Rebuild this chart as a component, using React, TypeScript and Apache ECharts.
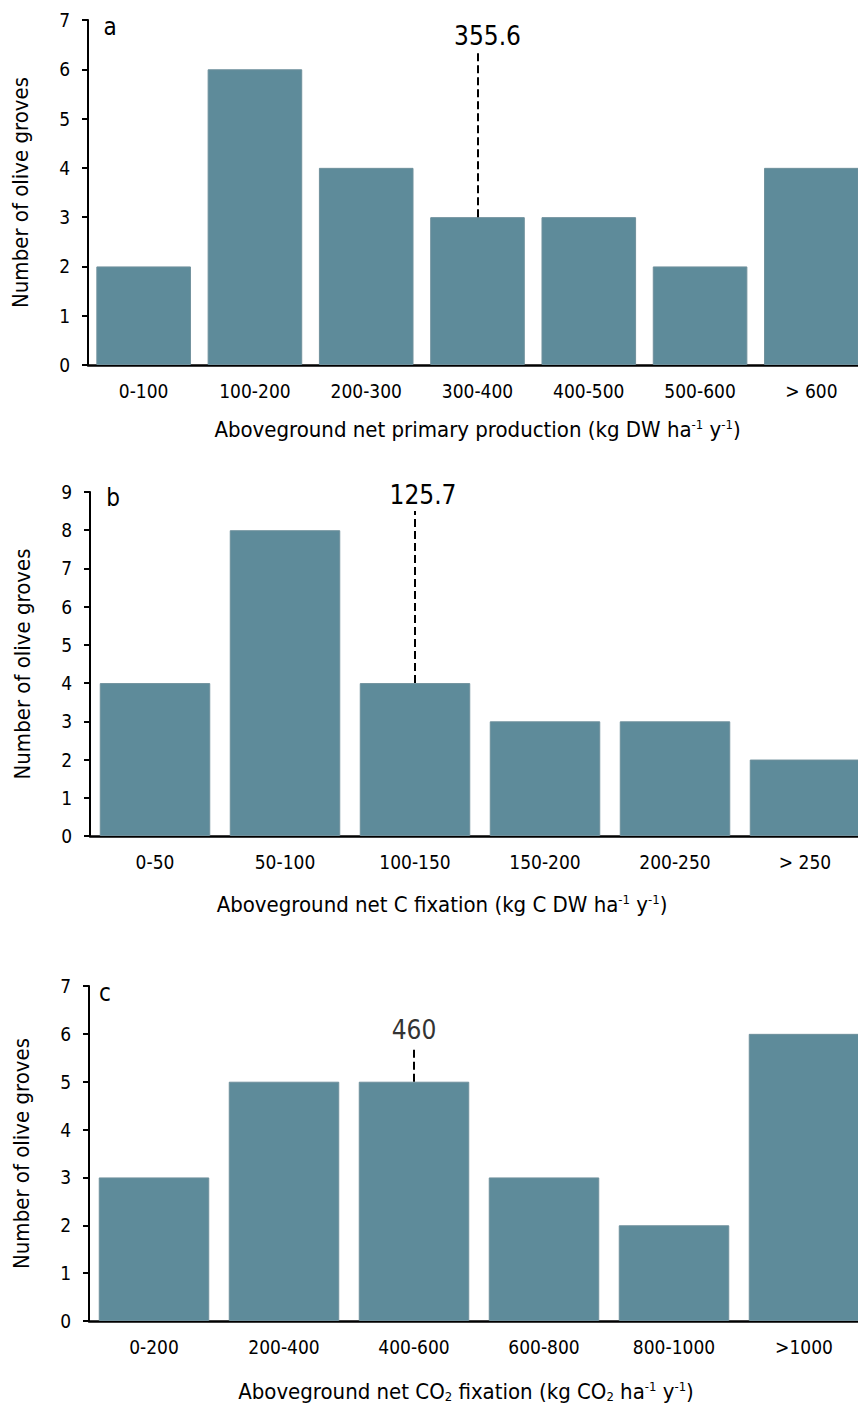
import React, { useEffect, useRef } from "react";
import * as echarts from "echarts";

const catsA = ["0-100", "100-200", "200-300", "300-400", "400-500", "500-600", "> 600"];
const valsA = [2, 6, 4, 3, 3, 2, 4];
const catsB = ["0-50", "50-100", "100-150", "150-200", "200-250", "> 250"];
const valsB = [4, 8, 4, 3, 3, 2];
const catsC = ["0-200", "200-400", "400-600", "600-800", "800-1000", ">1000"];
const valsC = [3, 5, 5, 3, 2, 6];

const yMax = [7, 9, 7];
const panelLetters = ["a", "b", "c"];
const medianCats = ["300-400", "100-150", "400-600"];
const medianLabels = ["355.6", "125.7", "460"];
const medianFrom = [3, 4, 5];
const medianTo = [6.35, 8.5, 5.75];

const FONT = "'Liberation Sans Narrow', 'DejaVu Sans Condensed', Roboto, sans-serif";
const BAR = "#5e8b9a";

export default function App() {
  const ref = useRef<HTMLDivElement>(null);
  useEffect(() => {
    if (!ref.current) return;
    const chart = echarts.init(ref.current, undefined, { renderer: "svg" });
    const grids = [
      { left: 88, top: 20, height: 345, right: 5 },
      { left: 90, top: 492, height: 344, right: 2 },
      { left: 89, top: 986, height: 336, right: 3 },
    ];
    const nameGaps = [53, 57, 59];
    const namePads = [[0, 0, 0, 0], [0, 76, 0, 0], [0, 26, 0, 0]];
    const labelOffsets = [[10, 0], [8, 0], [0, 0]];
    const cats = [catsA, catsB, catsC];
    const vals = [valsA, valsB, valsC];
    const xNames = [
      "Aboveground net primary production (kg DW ha{sup|-1} y{sup|-1})",
      "Aboveground net C fixation (kg C DW ha{sup|-1} y{sup|-1})",
      "Aboveground net CO{sub|2} fixation (kg CO{sub|2} ha{sup|-1} y{sup|-1})",
    ];
    const rich = {
      sup: { fontSize: 13, fontFamily: FONT, color: "#000", padding: [0, 0, 10, 0] },
      sub: { fontSize: 13, fontFamily: FONT, color: "#000", padding: [10, 0, 0, 0] },
    };
    const option: any = {
      animation: false,
      textStyle: { fontFamily: FONT },
      grid: grids.map((g) => ({ ...g, containLabel: false })),
      xAxis: cats.map((c, i) => ({
        type: "category",
        gridIndex: i,
        data: c,
        axisLine: { lineStyle: { color: "#000", width: 2.5 } },
        axisTick: { show: false },
        axisLabel: { fontSize: 19, color: "#000", margin: 16, fontFamily: FONT },
        name: xNames[i],
        nameLocation: "middle",
        nameGap: nameGaps[i],
        nameTextStyle: {
          fontSize: 22,
          color: "#000",
          fontFamily: FONT,
          padding: namePads[i],
          rich,
        },
      })),
      yAxis: yMax.map((m, i) => ({
        type: "value",
        gridIndex: i,
        min: 0,
        max: m,
        interval: 1,
        splitLine: { show: false },
        axisLine: { show: true, lineStyle: { color: "#000", width: 2 } },
        axisTick: { show: true, length: 6, lineStyle: { color: "#000", width: 2 } },
        axisLabel: { fontSize: 19, color: "#000", margin: 18, fontFamily: FONT },
        name: "Number of olive groves",
        nameLocation: "middle",
        nameGap: 57,
        nameTextStyle: { fontSize: 22, color: "#000", fontFamily: FONT },
      })),
      series: vals.map((v, i) => ({
        type: "bar",
        xAxisIndex: i,
        yAxisIndex: i,
        data: v,
        barCategoryGap: "15%",
        itemStyle: { color: BAR, borderColor: "#6f909c", borderWidth: 1 },
        markLine: {
          silent: true,
          symbol: "none",
          lineStyle: { type: "dashed", color: "#000", width: 2 },
          label: {
            show: true,
            position: "end",
            formatter: medianLabels[i],
            fontSize: 26,
            color: i === 2 ? "#333" : "#000",
            fontFamily: FONT,
            distance: 3,
            offset: labelOffsets[i],
          },
          data: [
            [
              { xAxis: medianCats[i], yAxis: medianFrom[i] },
              { xAxis: medianCats[i], yAxis: medianTo[i] },
            ],
          ],
        },
      })),
      graphic: [
        { x: 110, y: 27 },
        { x: 113, y: 498 },
        { x: 105, y: 993 },
      ].map((p, i) => ({
        type: "text",
        x: p.x,
        y: p.y,
        style: {
          text: panelLetters[i],
          fontSize: 24,
          fontFamily: FONT,
          fill: "#000",
          align: "center",
          verticalAlign: "middle",
        },
      })),
    };
    chart.setOption(option);
    return () => chart.dispose();
  }, []);
  return (
    <div
      ref={ref}
      style={{ position: "fixed", left: 0, top: 0, width: 872, height: 1404, background: "#fff" }}
    />
  );
}
